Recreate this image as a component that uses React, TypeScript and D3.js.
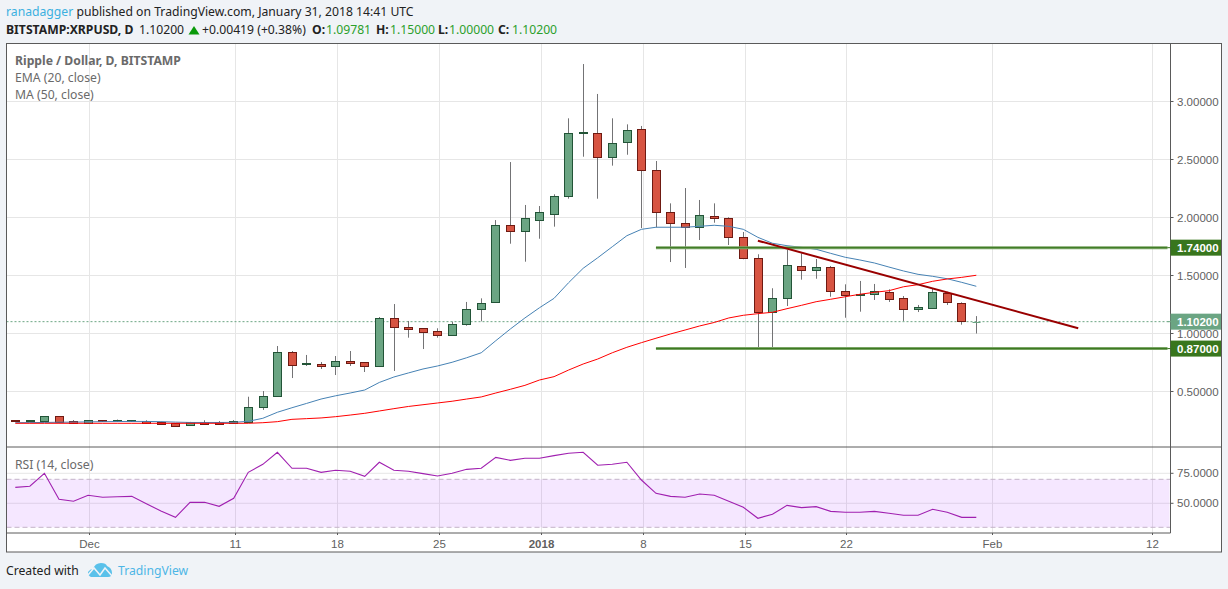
import React from 'react'
import * as d3 from 'd3'

// one candle per day, 26 Nov 2017 .. 31 Jan 2018
const opens = [.254,.248,.250,.286,.243,.231,.252,.246,.247,.250,.234,.226,.209,.233,.233,.226,.240,.364,.464,.838,.733,.741,.716,.760,.752,.716,1.131,1.053,1.045,1.019,.990,1.079,1.209,1.269,1.933,1.886,1.976,2.034,2.183,2.728,2.726,2.519,2.648,2.760,2.407,2.045,1.950,1.916,2.010,1.993,1.829,1.648,1.183,1.303,1.579,1.545,1.571,1.364,1.334,1.343,1.355,1.303,1.209,1.217,1.347,1.260,1.09781]
const highs = [.254,.253,.286,.286,.254,.254,.254,.258,.254,.252,.234,.226,.238,.252,.245,.254,.455,.504,.892,.849,.815,.754,.806,.849,.754,1.142,1.254,1.108,1.045,1.045,1.102,1.272,1.303,1.978,2.478,2.108,2.099,2.200,2.855,3.323,3.065,2.855,2.803,2.789,2.487,2.122,2.254,2.151,2.122,2.002,1.875,1.683,1.390,1.720,1.691,1.642,1.582,1.424,1.453,1.427,1.381,1.323,1.246,1.384,1.360,1.269,1.15]
const lows = [.248,.248,.250,.240,.228,.231,.246,.246,.247,.231,.217,.205,.209,.224,.222,.226,.240,.341,.453,.616,.720,.694,.642,.720,.668,.711,.677,.964,.866,.964,.990,1.067,1.105,1.269,1.774,1.619,1.817,1.921,2.162,2.524,2.162,2.447,2.541,1.909,1.916,1.616,1.565,1.806,1.955,1.763,1.640,.872,.872,1.237,1.464,1.472,1.317,1.136,1.188,1.289,1.272,1.108,1.185,1.217,1.246,1.076,1.0]
const closes = [.248,.253,.286,.240,.228,.252,.246,.252,.252,.231,.217,.205,.234,.224,.222,.246,.364,.464,.838,.731,.746,.716,.763,.750,.716,1.131,1.053,1.039,1.016,.990,1.079,1.209,1.260,1.933,1.886,1.993,2.045,2.183,2.726,2.734,2.519,2.645,2.752,2.407,2.045,1.950,1.916,2.019,1.993,1.829,1.648,1.183,1.303,1.588,1.545,1.571,1.364,1.334,1.343,1.364,1.300,1.209,1.226,1.355,1.269,1.105,1.102]

const ema20 = [.231,.232,.233,.235,.236,.238,.240,.241,.242,.242,.240,.236,.233,.233,.233,.234,.243,.269,.321,.360,.397,.435,.463,.487,.513,.578,.625,.660,.694,.720,.752,.791,.834,.938,1.039,1.134,1.222,1.303,1.438,1.562,1.653,1.748,1.843,1.898,1.916,1.916,1.916,1.924,1.933,1.924,1.898,1.829,1.778,1.757,1.743,1.726,1.691,1.657,1.634,1.608,1.573,1.539,1.510,1.493,1.472,1.441,1.407]
const ma50 = [.226,.226,.226,.226,.226,.226,.226,.226,.226,.226,.226,.226,.226,.226,.226,.226,.226,.231,.240,.260,.266,.272,.283,.297,.312,.332,.352,.371,.386,.401,.416,.435,.453,.487,.519,.553,.599,.628,.685,.737,.780,.834,.881,.921,.959,.996,1.030,1.065,1.095,1.134,1.157,1.171,1.183,1.214,1.243,1.274,1.295,1.317,1.338,1.355,1.369,1.403,1.421,1.450,1.470,1.484,1.502]
const rsi14 = [63.3,64.2,75,53.3,51.7,56.7,55,55.5,55.8,49.7,43.6,38.3,50.8,50.8,47.5,54.2,75.8,82.5,92.5,79.2,79.2,75.8,77.5,76.7,72.5,84.2,77.5,76.7,74.7,72.8,75,78.3,79.2,88.3,85.8,87.5,87.5,89.7,91.7,92.5,81.7,82.5,84.2,69.4,58.3,55.8,55,57.8,56.7,51.7,46.7,37.5,40.8,48.3,46.4,47.2,43.3,42.5,42.5,43.3,41.7,40,40,45,42.5,38.3,38.3]

const priceTicks = [0.5, 1, 1.5, 2, 2.5, 3]
const rsiTicks = [50, 75]
const dateLabels = ['Dec', '11', '18', '25', '2018', '8', '15', '22', 'Feb', '12']
const dateIndex = [5, 15, 22, 29, 36, 43, 50, 57, 67, 78]

const levels = [1.74, 0.87]
const levelStart = 44
const trendDays = [51, 73]
const trendPrices = [1.8, 1.045]
const lastPrice = 1.102

const BG = '#f0f3f7'
const FRAME = '#5a5a5a'
const GRID = '#e6e6e6'
const UP = '#6ba583'
const UP_EDGE = '#225437'
const DOWN = '#d75442'
const DOWN_EDGE = '#6f1a12'
const WICK = '#737375'
const LEVEL = '#38761d'
const AXIS_FONT = '"Liberation Sans", Arial, sans-serif'
const TEXT_FONT = '"Noto Sans", "Open Sans", sans-serif'
const TEXT_SIZE = 12.2

const left = 6.5
const right = 1221.5
const axisX = 1170.5
const top = 43.5
const priceBottom = 447
const rsiBottom = 533
const bottom = 552

const x = d3.scaleLinear().domain([0, 66]).range([15.3, 976.3])
const y = d3.scaleLinear().domain([0.5, 3]).range([391.5, 101.5])
const yRsi = d3.scaleLinear().domain([50, 75]).range([503.3, 473.3])
const snap = (v: number) => Math.round(v) + 0.5
const tickX = (i: number) => snap(x(i) + 1.2)

const days = d3.range(opens.length)
const priceLine = d3.line<number>().x((_, i) => x(i)).y(d => y(d))
const rsiLine = d3.line<number>().x((_, i) => x(i)).y(d => yRsi(d))

function Candle({ i }: { i: number }) {
  const cx = snap(x(i) - 0.3)
  const o = opens[i], c = closes[i]
  const isUp = c >= o
  const yTop = Math.round(y(Math.max(o, c))) + 0.5
  const yBot = Math.max(Math.round(y(Math.min(o, c))) + 0.5, yTop + 1)
  // the running candle is only a faint dash in the original
  const isLast = i === days.length - 1
  const edge = isLast ? UP : isUp ? UP_EDGE : DOWN_EDGE
  return (
    <g>
      <line x1={cx} x2={cx} y1={y(highs[i])} y2={y(lows[i])} stroke={WICK} />
      {isLast
        ? <line x1={cx - 4} x2={cx + 4} y1={yTop} y2={yTop} stroke={edge} />
        : <rect x={cx - 4} y={yTop} width={8} height={yBot - yTop} fill={isUp ? UP : DOWN} stroke={edge} />}
    </g>
  )
}

function PriceLabel({ v, fill }: { v: number, fill: string }) {
  return (
    <g>
      <rect x={axisX} y={y(v) - 8} width={right - axisX - 0.5} height={16} fill={fill} />
      <line x1={axisX - 3} x2={axisX + 3} y1={y(v)} y2={y(v)} stroke={fill} />
      <text x={1177} y={y(v) + 4} fontFamily={AXIS_FONT} fontSize={11.5} fontWeight="bold" fill="#fff">{v.toFixed(5)}</text>
    </g>
  )
}

export default function App() {
  return (
    <svg width={1228} height={589} style={{ position: 'absolute', left: 0, top: 0, display: 'block' }}>
      <rect width={1228} height={589} fill={BG} />
      <rect x={left} y={top} width={right - left} height={bottom - top} fill="#fff" />

      {/* header */}
      <g fontFamily={TEXT_FONT} fontSize={TEXT_SIZE} fill="#222">
        <text x={6} y={16}><tspan fill="#3bb0e0">ranadagger</tspan> published on TradingView.com, January 31, 2018 14:41 UTC</text>
        <text x={6} y={34} fontWeight="bold">BITSTAMP:XRPUSD, D</text>
        <text x={139} y={34}>1.10200</text>
        <path d="M188.5 34.5 L199.5 34.5 L194 26 Z" fill="#0a9a0a" />
        <text x={202} y={34}>+0.00419 (+0.38%)</text>
        <text x={312} y={34} fontWeight="bold">O:</text>
        <text x={326} y={34} fill="#2ca02c">1.09781</text>
        <text x={376} y={34} fontWeight="bold">H:</text>
        <text x={390} y={34} fill="#2ca02c">1.15000</text>
        <text x={438} y={34} fontWeight="bold">L:</text>
        <text x={449} y={34} fill="#2ca02c">1.00000</text>
        <text x={498} y={34} fontWeight="bold">C:</text>
        <text x={512} y={34} fill="#2ca02c">1.10200</text>
      </g>

      {/* grid */}
      <g stroke={GRID}>
        {dateIndex.map(i => <line key={i} x1={tickX(i)} x2={tickX(i)} y1={top} y2={rsiBottom} />)}
        {priceTicks.map(t => <line key={t} x1={left} x2={axisX} y1={y(t)} y2={y(t)} />)}
        {rsiTicks.map(t => <line key={t} x1={left} x2={axisX} y1={yRsi(t)} y2={yRsi(t)} />)}
      </g>

      {/* price pane */}
      <line x1={left} x2={axisX} y1={y(lastPrice)} y2={y(lastPrice)} stroke={UP} strokeDasharray="2 2" />
      {days.map(i => <Candle key={i} i={i} />)}
      <path d={priceLine(ema20) ?? ''} fill="none" stroke="#4682b4" />
      <path d={priceLine(ma50) ?? ''} fill="none" stroke="#ff0000" />
      {levels.map(v => (
        <g key={v}>
          <line x1={x(levelStart)} x2={axisX - 3} y1={y(v)} y2={y(v)} stroke="#7aa565" strokeWidth={3} />
          <line x1={x(levelStart)} x2={axisX - 3} y1={y(v)} y2={y(v)} stroke={LEVEL} strokeWidth={1} />
        </g>
      ))}
      <line x1={x(trendDays[0])} x2={x(trendDays[1])} y1={y(trendPrices[0])} y2={y(trendPrices[1])} stroke="#990000" strokeWidth={2} />

      <g fontFamily={TEXT_FONT} fontSize={TEXT_SIZE} fill="#6a6a6a">
        <text x={15} y={65} fontWeight="bold">Ripple / Dollar, D, BITSTAMP</text>
        <text x={15} y={82}>EMA (20, close)</text>
        <text x={15} y={99}>MA (50, close)</text>
      </g>

      {/* rsi pane */}
      <rect x={left} width={axisX - left - 1} y={yRsi(70)} height={yRsi(30) - yRsi(70)} fill="#9915ff" fillOpacity={0.1} />
      {[70, 30].map(t => (
        <line key={t} x1={left} x2={axisX} y1={yRsi(t)} y2={yRsi(t)} stroke="#c3b3c9" strokeDasharray="5 3" />
      ))}
      <path d={rsiLine(rsi14) ?? ''} fill="none" stroke="#a020b0" strokeWidth={1.1} />
      <text x={15} y={469} fontFamily={TEXT_FONT} fontSize={TEXT_SIZE} fill="#6a6a6a">RSI (14, close)</text>

      {/* frame */}
      <g fill="none" stroke={FRAME}>
        <rect x={left} y={top} width={right - left} height={bottom - top} />
        <line x1={left} x2={right} y1={priceBottom} y2={priceBottom} />
        <line x1={left} x2={axisX} y1={rsiBottom} y2={rsiBottom} />
        <line x1={axisX} x2={axisX} y1={top} y2={rsiBottom} />
      </g>

      {/* axes */}
      <g fontFamily={AXIS_FONT} fontSize={11.5} fill="#5f5f5f">
        {priceTicks.map(t => (
          <g key={t}>
            <line x1={axisX} x2={axisX + 3} y1={y(t)} y2={y(t)} stroke={FRAME} />
            <text x={1177} y={y(t) + 4}>{t.toFixed(5)}</text>
          </g>
        ))}
        {rsiTicks.map(t => (
          <g key={t}>
            <line x1={axisX} x2={axisX + 3} y1={yRsi(t)} y2={yRsi(t)} stroke={FRAME} />
            <text x={1177} y={yRsi(t) + 4}>{t.toFixed(4)}</text>
          </g>
        ))}
        {dateIndex.map((i, n) => (
          <g key={i}>
            <line x1={tickX(i)} x2={tickX(i)} y1={rsiBottom} y2={rsiBottom + 2} stroke={FRAME} />
            <text x={tickX(i)} y={548} textAnchor="middle" fontWeight={dateLabels[n] === '2018' ? 'bold' : 'normal'}>{dateLabels[n]}</text>
          </g>
        ))}
      </g>
      {levels.map(v => <PriceLabel key={v} v={v} fill={LEVEL} />)}
      <PriceLabel v={lastPrice} fill={UP} />

      {/* footer */}
      <g fontFamily={TEXT_FONT} fontSize={TEXT_SIZE}>
        <text x={6} y={575} fill="#222">Created with</text>
        <text x={118} y={575} fill="#4db6e6">TradingView</text>
      </g>
      <path d="M88 572 Q90 569 93 569 Q95 563 101 563 Q106 563 107 566 Q112 568 112 573 Q112 577 108 577 L91 577 Q88 576 88 572 Z" fill="#5ac1ea" />
      <path d="M88 575 L94 568 L100 575 L105 568 L112 576" fill="none" stroke="#f0f3f7" strokeWidth={1.5} />
    </svg>
  )
}
